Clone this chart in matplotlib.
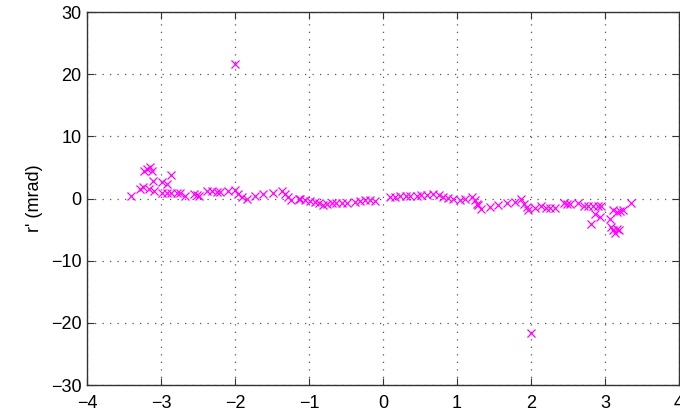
import numpy as np
import matplotlib
matplotlib.use('Agg')
import matplotlib.pyplot as plt

# phase (x) and r' in mrad (y)
x_vals = [-3.40, -3.23, -3.15, -3.12, -3.19, -2.86, -3.11, -3.28, -3.24, -3.16, -3.10,
          -2.99, -2.92, -2.99, -2.92, -2.86, -2.79, -2.74, -2.68, -2.56, -2.52, -2.49,
          -2.38, -2.31, -2.25, -2.20, -2.09, -2.00, -1.96, -1.91, -1.84, -1.73, -1.62,
          -1.49, -1.37, -1.32, -1.28, -1.25, -1.14, -2.00,
          -1.12, -1.05, -0.99, -0.92, -0.87, -0.81, -0.76, -0.69, -0.63, -0.56, -0.49,
          -0.38, -0.31, -0.24, -0.18, -0.11,
          0.09, 0.16, 0.23, 0.31, 0.37, 0.46, 0.52, 0.59, 0.68, 0.75, 0.81, 0.88, 0.95,
          1.04, 1.11, 1.20, 1.27, 1.24, 1.29, 1.32, 1.45, 1.56, 1.68, 1.78, 1.87, 1.90,
          1.94, 1.96, 2.05, 2.14, 2.20, 2.26, 2.32, 2.44, 2.48, 2.53, 2.64, 2.71, 2.77,
          2.84, 2.90, 2.95, 2.86, 2.93, 2.81, 3.07, 3.11, 3.16, 3.20, 3.24, 3.08, 3.11,
          3.16, 3.19, 3.14, 3.35, 2.00]
y_vals = [0.4, 4.4, 5.1, 4.5, 4.8, 3.8, 2.9, 1.6, 1.8, 1.5, 1.2,
          2.6, 2.4, 0.9, 0.9, 0.9, 0.9, 0.9, 0.4, 0.8, 0.6, 0.4,
          1.2, 1.2, 1.0, 1.0, 1.2, 1.4, 0.7, 0.2, -0.05, 0.4, 0.7,
          0.9, 1.2, 0.7, 0.2, -0.3, 0.0, 21.7,
          -0.05, -0.2, -0.4, -0.6, -0.75, -1.0, -0.85, -0.75, -0.75, -0.75, -0.7,
          -0.6, -0.4, -0.2, -0.2, -0.4,
          0.2, 0.3, 0.4, 0.4, 0.4, 0.4, 0.6, 0.5, 0.65, 0.5, 0.2, 0.1, -0.05,
          -0.2, -0.05, 0.2, -0.85, -0.3, -1.1, -1.7, -1.3, -1.0, -0.7, -0.5, -0.15, -0.85,
          -1.4, -1.8, -1.5, -1.25, -1.5, -1.5, -1.5, -0.7, -0.85, -0.85, -0.7, -1.25, -1.25,
          -1.25, -1.25, -1.25, -2.5, -2.9, -4.1, -3.3, -1.8, -2.2, -2.0, -1.9, -4.6, -5.1,
          -4.9, -5.0, -5.5, -0.75, -21.7]

x_ticks = [-4, -3, -2, -1, 0, 1, 2, 3, 4]
y_ticks = [-30, -20, -10, 0, 10, 20, 30]

plt.rcParams['font.family'] = ['Liberation Sans', 'DejaVu Sans']

fig = plt.figure(figsize=(6.8, 4.16), dpi=100)
ax = fig.add_axes([0.128, 0.0745, 0.8705, 0.8965])

ax.plot(x_vals, y_vals, 'x', color='#ff00ff', markersize=5.5, markeredgewidth=0.9)

ax.set_xlim(-4, 4)
ax.set_ylim(-30, 30)
ax.set_xticks(x_ticks)
ax.set_yticks(y_ticks)
ax.set_xticklabels(['\u2212%d' % -t if t < 0 else str(t) for t in x_ticks])
ax.set_yticklabels(['\u2212%d' % -t if t < 0 else str(t) for t in y_ticks])
ax.grid(True, linestyle=(0, (1, 5)), color='#555555', linewidth=0.9)
ax.tick_params(direction='in', top=True, right=True, length=5, labelsize=13,
               color='#333333')
ax.tick_params(axis='x', pad=7)
ax.tick_params(axis='y', pad=4)
for s in ax.spines.values():
    s.set_color('#333333')
    s.set_linewidth(1.0)
ax.set_ylabel("r' (mrad)", fontsize=13, labelpad=6)

fig.savefig('out.png', dpi=100)
